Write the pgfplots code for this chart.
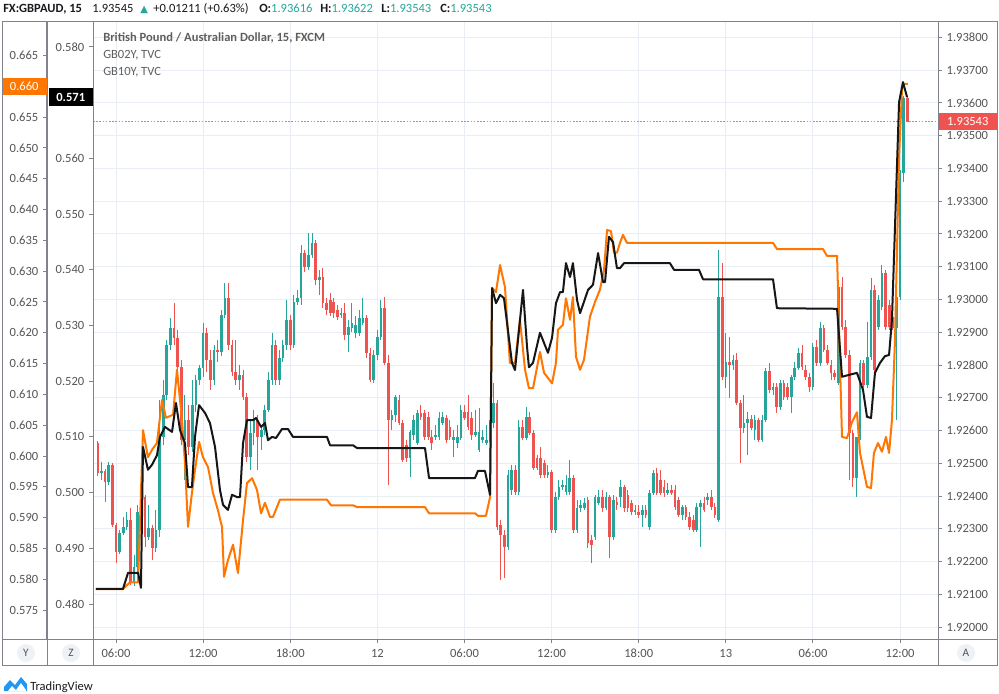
\documentclass[border=0pt]{standalone}
\usepackage{fontspec}
\setmainfont{Carlito}
\newfontfamily\dejavu{DejaVu Sans}
\usepackage{pgfplots}
\pgfplotsset{compat=1.18}
\usepackage{pgfplotstable}

\definecolor{upc}{RGB}{38,166,154}
\definecolor{dnc}{RGB}{239,83,80}
\definecolor{orc}{RGB}{255,118,0}
\definecolor{blk}{RGB}{22,22,22}
\definecolor{gridc}{RGB}{232,238,244}
\definecolor{framec}{RGB}{128,131,140}
\definecolor{tickc}{RGB}{85,85,85}
\definecolor{txtc}{RGB}{25,25,30}
\definecolor{legc}{RGB}{95,95,95}
\definecolor{circc}{RGB}{238,241,246}
\definecolor{tvblue}{RGB}{33,150,243}

\pgfplotstableread{
t o h l c
4.75 1.92562 1.92568 1.92461 1.92470
5.00 1.92470 1.92504 1.92449 1.92476
5.25 1.92476 1.92482 1.92382 1.92443
5.50 1.92443 1.92504 1.92434 1.92495
5.75 1.92495 1.92501 1.92305 1.92311
6.00 1.92311 1.92318 1.92195 1.92229
6.25 1.92229 1.92296 1.92223 1.92287
6.50 1.92287 1.92336 1.92281 1.92305
6.75 1.92305 1.92351 1.92296 1.92327
7.00 1.92327 1.92363 1.92128 1.92134
7.25 1.92134 1.92220 1.92125 1.92183
7.50 1.92183 1.92373 1.92159 1.92351
7.75 1.92351 1.92427 1.92342 1.92397
8.00 1.92397 1.92403 1.92244 1.92275
8.25 1.92275 1.92373 1.92266 1.92302
8.50 1.92302 1.92311 1.92205 1.92241
8.75 1.92241 1.92357 1.92229 1.92296
9.00 1.92296 1.92693 1.92275 1.92580
9.25 1.92580 1.92754 1.92556 1.92708
9.50 1.92708 1.92876 1.92693 1.92861
9.75 1.92861 1.92944 1.92846 1.92913
10.00 1.92913 1.92989 1.92861 1.92882
10.25 1.92882 1.92907 1.92779 1.92794
10.50 1.92794 1.92815 1.92556 1.92571
10.75 1.92571 1.92708 1.92449 1.92632
11.00 1.92632 1.92678 1.92525 1.92550
11.25 1.92550 1.92754 1.92534 1.92678
11.50 1.92678 1.92769 1.92656 1.92754
11.75 1.92754 1.92800 1.92739 1.92791
12.00 1.92791 1.92928 1.92763 1.92898
12.25 1.92898 1.92913 1.92779 1.92815
12.50 1.92815 1.92846 1.92724 1.92754
12.75 1.92754 1.92861 1.92739 1.92846
13.00 1.92846 1.92876 1.92809 1.92840
13.25 1.92840 1.92968 1.92827 1.92953
13.50 1.92953 1.93050 1.92944 1.93005
13.75 1.93005 1.93050 1.92846 1.92861
14.00 1.92861 1.92876 1.92766 1.92779
14.25 1.92779 1.92876 1.92739 1.92754
14.50 1.92754 1.92800 1.92724 1.92769
14.75 1.92769 1.92785 1.92693 1.92702
15.00 1.92702 1.92715 1.92504 1.92519
15.25 1.92519 1.92632 1.92479 1.92592
15.50 1.92592 1.92663 1.92556 1.92632
15.75 1.92632 1.92647 1.92479 1.92580
16.00 1.92580 1.92617 1.92540 1.92602
16.25 1.92602 1.92678 1.92586 1.92663
16.50 1.92663 1.92779 1.92656 1.92754
16.75 1.92754 1.92898 1.92739 1.92861
17.00 1.92861 1.92876 1.92739 1.92754
17.25 1.92754 1.92846 1.92739 1.92821
17.50 1.92821 1.92876 1.92809 1.92861
17.75 1.92861 1.92998 1.92846 1.92937
18.00 1.92937 1.92953 1.92846 1.92861
18.25 1.92861 1.93014 1.92852 1.92992
18.50 1.92992 1.93029 1.92983 1.93005
18.75 1.93005 1.93166 1.92983 1.93142
19.00 1.93142 1.93151 1.93084 1.93099
19.25 1.93099 1.93203 1.93090 1.93136
19.50 1.93136 1.93203 1.93127 1.93173
19.75 1.93173 1.93182 1.93044 1.93060
20.00 1.93060 1.93090 1.93014 1.93069
20.25 1.93069 1.93096 1.92974 1.92989
20.50 1.92989 1.93005 1.92953 1.92968
20.75 1.92998 1.93020 1.92950 1.92959
21.00 1.92992 1.93005 1.92944 1.92959
21.25 1.92968 1.92983 1.92937 1.92947
21.50 1.92953 1.92974 1.92944 1.92959
21.75 1.92959 1.92989 1.92876 1.92892
22.00 1.92892 1.92937 1.92840 1.92916
22.25 1.92913 1.92989 1.92901 1.92928
22.50 1.92898 1.92950 1.92882 1.92922
22.75 1.92898 1.92968 1.92889 1.92944
23.00 1.92928 1.93005 1.92922 1.92944
23.25 1.92944 1.92953 1.92821 1.92837
23.50 1.92837 1.92852 1.92748 1.92754
23.75 1.92754 1.92846 1.92745 1.92831
24.00 1.92831 1.92907 1.92815 1.92886
24.25 1.92886 1.92998 1.92876 1.92974
24.50 1.92974 1.93008 1.92800 1.92806
24.75 1.92806 1.92831 1.92434 1.92632
25.00 1.92632 1.92663 1.92602 1.92647
25.25 1.92647 1.92708 1.92626 1.92702
25.50 1.92693 1.92708 1.92617 1.92623
25.75 1.92623 1.92632 1.92504 1.92510
26.00 1.92556 1.92571 1.92504 1.92516
26.25 1.92516 1.92602 1.92458 1.92595
26.50 1.92586 1.92647 1.92571 1.92632
26.75 1.92562 1.92663 1.92556 1.92653
27.00 1.92653 1.92678 1.92632 1.92641
27.25 1.92653 1.92663 1.92571 1.92580
27.50 1.92641 1.92656 1.92571 1.92580
27.75 1.92580 1.92602 1.92540 1.92562
28.00 1.92580 1.92617 1.92571 1.92586
28.25 1.92580 1.92656 1.92571 1.92638
28.50 1.92623 1.92656 1.92617 1.92641
28.75 1.92638 1.92647 1.92562 1.92571
29.00 1.92611 1.92632 1.92571 1.92580
29.25 1.92571 1.92602 1.92519 1.92580
29.50 1.92562 1.92617 1.92547 1.92580
29.75 1.92577 1.92678 1.92571 1.92663
30.00 1.92656 1.92678 1.92632 1.92638
30.25 1.92656 1.92708 1.92602 1.92611
30.50 1.92638 1.92656 1.92571 1.92586
30.75 1.92586 1.92663 1.92580 1.92595
31.00 1.92540 1.92669 1.92534 1.92595
31.25 1.92571 1.92602 1.92562 1.92580
31.50 1.92562 1.92617 1.92556 1.92571
31.75 1.92571 1.92632 1.92565 1.92623
32.00 1.92623 1.92745 1.92608 1.92684
32.25 1.92684 1.92693 1.92296 1.92305
32.50 1.92311 1.92327 1.92144 1.92281
32.75 1.92281 1.92296 1.92150 1.92244
33.00 1.92244 1.92479 1.92235 1.92464
33.25 1.92418 1.92495 1.92403 1.92479
33.50 1.92479 1.92495 1.92403 1.92412
33.75 1.92412 1.92632 1.92403 1.92611
34.00 1.92611 1.92632 1.92571 1.92577
34.25 1.92577 1.92672 1.92571 1.92641
34.50 1.92641 1.92656 1.92586 1.92592
34.75 1.92592 1.92602 1.92479 1.92485
35.00 1.92516 1.92525 1.92479 1.92485
35.25 1.92516 1.92550 1.92455 1.92464
35.50 1.92501 1.92510 1.92455 1.92464
35.75 1.92464 1.92495 1.92455 1.92473
36.00 1.92473 1.92479 1.92287 1.92296
36.25 1.92296 1.92412 1.92287 1.92397
36.50 1.92397 1.92449 1.92388 1.92427
36.75 1.92427 1.92449 1.92418 1.92434
37.00 1.92412 1.92464 1.92403 1.92434
37.25 1.92412 1.92510 1.92403 1.92455
37.50 1.92455 1.92464 1.92287 1.92296
37.75 1.92296 1.92388 1.92287 1.92363
38.00 1.92363 1.92388 1.92351 1.92373
38.25 1.92363 1.92394 1.92357 1.92379
38.50 1.92388 1.92397 1.92241 1.92256
38.75 1.92266 1.92281 1.92195 1.92250
39.00 1.92275 1.92403 1.92266 1.92397
39.25 1.92379 1.92418 1.92373 1.92397
39.50 1.92397 1.92418 1.92351 1.92363
39.75 1.92363 1.92412 1.92357 1.92397
40.00 1.92397 1.92403 1.92211 1.92275
40.25 1.92275 1.92403 1.92266 1.92388
40.50 1.92382 1.92397 1.92357 1.92373
40.75 1.92397 1.92449 1.92366 1.92427
41.00 1.92427 1.92434 1.92351 1.92363
41.25 1.92403 1.92418 1.92351 1.92363
41.50 1.92379 1.92388 1.92342 1.92351
41.75 1.92351 1.92373 1.92342 1.92357
42.00 1.92351 1.92373 1.92333 1.92342
42.25 1.92342 1.92373 1.92305 1.92357
42.50 1.92357 1.92373 1.92333 1.92342
42.75 1.92305 1.92418 1.92296 1.92409
43.00 1.92409 1.92479 1.92403 1.92470
43.25 1.92470 1.92485 1.92403 1.92409
43.50 1.92449 1.92479 1.92403 1.92409
43.75 1.92427 1.92449 1.92397 1.92409
44.00 1.92409 1.92440 1.92403 1.92418
44.25 1.92418 1.92434 1.92403 1.92409
44.50 1.92418 1.92434 1.92357 1.92366
44.75 1.92388 1.92397 1.92336 1.92342
45.00 1.92342 1.92373 1.92327 1.92366
45.25 1.92366 1.92373 1.92327 1.92336
45.50 1.92336 1.92351 1.92296 1.92305
45.75 1.92327 1.92342 1.92290 1.92296
46.00 1.92296 1.92379 1.92290 1.92366
46.25 1.92366 1.92388 1.92244 1.92379
46.50 1.92379 1.92397 1.92351 1.92357
46.75 1.92388 1.92409 1.92373 1.92397
47.00 1.92397 1.92418 1.92357 1.92366
47.25 1.92366 1.92379 1.92333 1.92342
47.50 1.92327 1.93151 1.92321 1.93008
47.75 1.93008 1.93111 1.92754 1.92763
48.00 1.92763 1.92898 1.92730 1.92809
48.25 1.92809 1.92886 1.92699 1.92800
48.50 1.92800 1.92831 1.92785 1.92815
48.75 1.92815 1.92837 1.92678 1.92684
49.00 1.92684 1.92693 1.92501 1.92608
49.25 1.92608 1.92708 1.92592 1.92623
49.50 1.92623 1.92656 1.92525 1.92635
49.75 1.92635 1.92647 1.92602 1.92608
50.00 1.92602 1.92647 1.92571 1.92632
50.25 1.92632 1.92638 1.92565 1.92571
50.50 1.92571 1.92647 1.92565 1.92632
50.75 1.92632 1.92791 1.92626 1.92782
51.00 1.92782 1.92806 1.92715 1.92724
51.25 1.92724 1.92745 1.92708 1.92733
51.50 1.92733 1.92745 1.92653 1.92672
51.75 1.92672 1.92754 1.92663 1.92745
52.00 1.92745 1.92754 1.92693 1.92702
52.25 1.92733 1.92745 1.92693 1.92702
52.50 1.92702 1.92769 1.92653 1.92763
52.75 1.92763 1.92809 1.92754 1.92791
53.00 1.92791 1.92852 1.92785 1.92837
53.25 1.92837 1.92861 1.92785 1.92794
53.50 1.92785 1.92800 1.92754 1.92763
53.75 1.92763 1.92776 1.92718 1.92733
54.00 1.92733 1.92867 1.92724 1.92855
54.25 1.92855 1.92876 1.92797 1.92806
54.50 1.92806 1.92931 1.92797 1.92913
54.75 1.92913 1.92922 1.92840 1.92846
55.00 1.92846 1.92861 1.92800 1.92806
55.25 1.92800 1.92815 1.92754 1.92776
55.50 1.92776 1.92785 1.92754 1.92763
55.75 1.92745 1.93060 1.92739 1.93038
56.00 1.93038 1.93069 1.92907 1.92916
56.25 1.92916 1.92937 1.92821 1.92831
56.50 1.92831 1.92846 1.92449 1.92592
56.75 1.92592 1.92602 1.92427 1.92455
57.00 1.92455 1.92580 1.92397 1.92580
57.25 1.92580 1.92815 1.92571 1.92806
57.50 1.92806 1.92815 1.92724 1.92739
57.75 1.92739 1.92931 1.92730 1.92824
58.00 1.92824 1.93066 1.92815 1.93029
58.25 1.93029 1.93044 1.92779 1.92785
58.50 1.92916 1.93014 1.92907 1.92998
58.75 1.92977 1.93105 1.92968 1.93081
59.00 1.93081 1.93090 1.92907 1.92916
59.25 1.92983 1.92998 1.92907 1.92916
59.50 1.92947 1.92962 1.92907 1.92913
59.75 1.92913 1.93029 1.92632 1.93008
60.00 1.93008 1.93395 1.92998 1.93386
60.25 1.93386 1.93620 1.93359 1.93615
60.50 1.93616 1.93622 1.93543 1.93543
}\candles

\pgfplotsset{
  tvaxis/.style={
    anchor=south west, scale only axis, height=462.75pt,
    axis line style={-, draw=framec, line width=0.75pt},
    tick align=outside, major tick length=3pt,
    tick style={draw=framec, line width=0.75pt},
    tick label style={font=\fontsize{9.4}{10}\selectfont, text=tickc},
    scaled y ticks=false, scaled x ticks=false,
    clip mode=individual,
  },
}

\begin{document}
\begin{tikzpicture}[font=\fontsize{9.4}{11}\selectfont]
\fill[white] (0,0) rectangle (749.25pt,519.75pt);
\path[use as bounding box] (0,0) rectangle (749.25pt,519.75pt);

% ---------- main price axis (right) ----------
\begin{axis}[tvaxis,
  at={(69.75pt,40.5pt)}, width=633.75pt,
  xmin=4.416, xmax=62.612, ymin=1.919634, ymax=1.938473,
  axis x line*=bottom, axis y line*=right,
  xtick={6,12,18,24,30,36,42,48,54,60},
  xticklabels={06:00,12:00,18:00,12,06:00,12:00,18:00,13,06:00,12:00},
  ytick={1.920,1.921,1.922,1.923,1.924,1.925,1.926,1.927,1.928,1.929,1.930,1.931,1.932,1.933,1.934,1.935,1.936,1.937,1.938},
  yticklabel style={/pgf/number format/.cd, fixed, fixed zerofill, precision=5, assume math mode=true},
  xticklabel style={yshift=-1pt},
  grid=major, grid style={draw=gridc, line width=0.75pt},
]
\addplot[dnc!80, dash pattern=on 1.2pt off 1.2pt, line width=0.8pt, forget plot] coordinates {(4.416,1.93543) (62.612,1.93543)};
% wicks
\addplot[draw=none, mark=none, forget plot,
  restrict expr to domain={\thisrow{c}-\thisrow{o}}{0:1},
  error bars/.cd, y dir=minus, y explicit, error mark=none,
  error bar style={line width=0.75pt, draw=upc}]
  table[x=t, y=h, y error minus expr=\thisrow{h}-\thisrow{l}] {\candles};
\addplot[draw=none, mark=none, forget plot,
  restrict expr to domain={\thisrow{o}-\thisrow{c}}{0.0000001:1},
  error bars/.cd, y dir=minus, y explicit, error mark=none,
  error bar style={line width=0.75pt, draw=dnc}]
  table[x=t, y=h, y error minus expr=\thisrow{h}-\thisrow{l}] {\candles};
% bodies
\addplot[draw=none, mark=none, forget plot,
  restrict expr to domain={\thisrow{c}-\thisrow{o}}{0:1},
  error bars/.cd, y dir=minus, y explicit, error mark=none,
  error bar style={line width=2pt, draw=upc}]
  table[x=t, y=c, y error minus expr=\thisrow{c}-\thisrow{o}] {\candles};
\addplot[draw=none, mark=none, forget plot,
  restrict expr to domain={\thisrow{o}-\thisrow{c}}{0.0000001:1},
  error bars/.cd, y dir=minus, y explicit, error mark=none,
  error bar style={line width=2pt, draw=dnc}]
  table[x=t, y=o, y error minus expr=\thisrow{o}-\thisrow{c}] {\candles};
\node[fill=dnc, text=white, anchor=west, minimum width=44.25pt, minimum height=12.75pt, inner sep=0pt, font=\fontsize{9.4}{10}\selectfont] at (axis cs:62.612,1.93543) {1.93543};
\end{axis}

% ---------- GB10Y (orange, outer left axis) ----------
\begin{axis}[tvaxis,
  at={(35.25pt,40.5pt)}, width=668.25pt,
  xmin=1.248, xmax=62.612, ymin=0.570292, ymax=0.670455,
  axis x line=none, axis y line*=left,
  ytick={0.575,0.580,0.585,0.590,0.595,0.600,0.605,0.610,0.615,0.620,0.625,0.630,0.635,0.640,0.645,0.650,0.655,0.665},
  yticklabel style={/pgf/number format/.cd, fixed, fixed zerofill, precision=3, assume math mode=true},
]
\addplot[orc, line width=1.5pt, line join=round, mark=none] coordinates {
(4.62,0.5784)(6.48,0.5784)(6.96,0.5795)(7.52,0.5795)(7.86,0.6042)(8.20,0.5998)(8.48,0.6010)(8.82,0.6021)(9.17,0.6091)(9.44,0.6062)(9.93,0.6067)(10.20,0.6140)(10.55,0.6058)(10.75,0.5989)(10.96,0.5885)(11.23,0.5940)(11.44,0.5977)(11.72,0.6023)(11.99,0.5998)(12.34,0.5982)(12.68,0.5940)(13.02,0.5912)(13.30,0.5885)(13.44,0.5804)(13.71,0.5831)(14.06,0.5856)(14.40,0.5810)(14.75,0.5896)(15.02,0.5956)(15.37,0.5964)(15.71,0.5945)(15.99,0.5907)(16.26,0.5924)(16.61,0.5901)(16.81,0.5901)(17.29,0.5929)(20.53,0.5929)(20.81,0.5920)(22.32,0.5920)(22.60,0.5917)(27.28,0.5917)(27.56,0.5907)(30.72,0.5907)(30.93,0.5903)(31.48,0.5903)(31.76,0.5933)(31.90,0.6273)(32.17,0.6266)(32.45,0.6310)(32.79,0.6274)(33.13,0.6151)(33.48,0.6151)(33.82,0.6221)(34.17,0.6140)(34.44,0.6110)(34.72,0.6110)(35.20,0.6169)(35.48,0.6135)(36.03,0.6118)(36.30,0.6151)(36.44,0.6205)(36.78,0.6213)(36.99,0.6256)(37.27,0.6221)(37.47,0.6258)(37.68,0.6161)(37.96,0.6140)(38.23,0.6156)(38.64,0.6226)(38.99,0.6250)(39.33,0.6270)(39.61,0.6302)(39.82,0.6367)(40.09,0.6365)(40.30,0.6330)(40.50,0.6330)(40.71,0.6346)(40.92,0.6359)(41.19,0.6346)(51.25,0.6346)(51.52,0.6336)(54.69,0.6336)(54.96,0.6325)(55.66,0.6325)(56.00,0.6031)(56.34,0.6029)(56.69,0.6055)(57.03,0.6071)(57.24,0.6005)(57.72,0.5950)(58.00,0.5948)(58.20,0.6005)(58.48,0.6021)(58.75,0.6007)(59.03,0.6031)(59.24,0.6005)(59.44,0.6058)(59.65,0.6188)(59.93,0.6485)(60.13,0.6594)(60.27,0.6604)(60.54,0.6604)
};
\node[fill=orc, text=white, anchor=east, minimum width=33.75pt, minimum height=12.75pt, inner sep=0pt, font=\fontsize{9.4}{10}\selectfont] at (axis cs:1.248,0.660) {0.660};
\end{axis}

% ---------- GB02Y (black, inner left axis) ----------
\begin{axis}[tvaxis,
  at={(69.75pt,40.5pt)}, width=633.75pt,
  xmin=4.416, xmax=62.612, ymin=0.473716, ymax=0.584488,
  axis x line=none, axis y line*=left,
  ytick={0.48,0.49,0.50,0.51,0.52,0.53,0.54,0.55,0.56,0.58},
  yticklabel style={/pgf/number format/.cd, fixed, fixed zerofill, precision=3, assume math mode=true},
]
\addplot[blk, line width=1.5pt, line join=round, mark=none] coordinates {
(4.62,0.4827)(6.48,0.4827)(6.83,0.4856)(7.52,0.4856)(7.72,0.4829)(7.86,0.5082)(8.20,0.5041)(8.48,0.5050)(8.82,0.5067)(9.03,0.5100)(9.37,0.5118)(9.86,0.5109)(10.13,0.5161)(10.41,0.5112)(10.75,0.5089)(10.96,0.5010)(11.23,0.5010)(11.44,0.5100)(11.72,0.5157)(12.13,0.5143)(12.47,0.5125)(12.82,0.5082)(13.16,0.5005)(13.37,0.4978)(13.71,0.4969)(13.99,0.4996)(14.33,0.4992)(14.54,0.4992)(14.75,0.5089)(15.02,0.5130)(15.44,0.5130)(15.64,0.5134)(15.99,0.5118)(16.26,0.5125)(16.47,0.5094)(16.74,0.5100)(17.02,0.5098)(17.43,0.5114)(17.85,0.5114)(18.19,0.5100)(20.53,0.5100)(20.74,0.5085)(22.32,0.5085)(22.60,0.5080)(27.28,0.5080)(27.56,0.5026)(30.72,0.5026)(30.93,0.5039)(31.41,0.5039)(31.76,0.4996)(31.90,0.5367)(32.17,0.5340)(32.45,0.5355)(32.72,0.5349)(33.27,0.5233)(33.48,0.5220)(34.03,0.5364)(34.31,0.5261)(34.44,0.5225)(34.72,0.5233)(35.20,0.5287)(35.75,0.5251)(36.03,0.5278)(36.30,0.5340)(36.58,0.5360)(36.78,0.5360)(36.99,0.5412)(37.27,0.5387)(37.47,0.5412)(37.75,0.5346)(37.96,0.5322)(38.51,0.5364)(38.85,0.5373)(39.20,0.5430)(39.54,0.5378)(39.68,0.5378)(39.95,0.5459)(40.23,0.5450)(40.50,0.5403)(40.71,0.5403)(40.99,0.5412)(44.15,0.5412)(44.43,0.5400)(46.15,0.5400)(46.43,0.5383)(51.25,0.5383)(51.52,0.5331)(55.66,0.5330)(56.00,0.5208)(57.03,0.5215)(57.45,0.5184)(57.72,0.5136)(58.00,0.5134)(58.27,0.5215)(58.62,0.5233)(58.96,0.5245)(59.24,0.5247)(59.44,0.5310)(59.93,0.5701)(60.20,0.5737)(60.48,0.5710)
};
\node[fill=black, text=white, anchor=east, minimum width=33pt, minimum height=13.5pt, inner sep=0pt, font=\bfseries\fontsize{9.4}{10}\selectfont] at (axis cs:4.416,0.571) {0.571};
\end{axis}

% ---------- frame ----------
\draw[framec, line width=0.75pt] (1.5pt,21pt) rectangle (747.75pt,503.25pt);
\draw[framec, line width=0.75pt] (35.25pt,21pt) -- (35.25pt,503.25pt);
\draw[framec, line width=0.75pt] (69.75pt,21pt) -- (69.75pt,503.25pt);
\draw[framec, line width=0.75pt] (703.5pt,21pt) -- (703.5pt,503.25pt);
\draw[framec, line width=0.75pt] (1.5pt,40.5pt) -- (747.75pt,40.5pt);

% ---------- header ----------
\node[anchor=base west, inner sep=0pt, text=txtc] at (2.25pt,510pt) {\textbf{FX:GBPAUD, 15}};
\node[anchor=base west, inner sep=0pt, text=txtc] at (69pt,510pt) {1.93545};
\node[anchor=base west, inner sep=0pt, text=upc] at (105pt,510pt) {\dejavu\fontsize{7.5}{8}\selectfont ▲};
\node[anchor=base west, inner sep=0pt, text=txtc] at (114.75pt,510pt) {+0.01211 (+0.63\%)};
\node[anchor=base west, inner sep=0pt, text=txtc] at (194.25pt,510pt) {\textbf{O:}\textcolor{upc}{1.93616}};
\node[anchor=base west, inner sep=0pt, text=txtc] at (240pt,510pt) {\textbf{H:}\textcolor{upc}{1.93622}};
\node[anchor=base west, inner sep=0pt, text=txtc] at (285.75pt,510pt) {\textbf{L:}\textcolor{upc}{1.93543}};
\node[anchor=base west, inner sep=0pt, text=txtc] at (330pt,510pt) {\textbf{C:}\textcolor{upc}{1.93543}};

% ---------- legend texts ----------
\node[anchor=base west, inner sep=0pt, text=legc] at (77.25pt,488.25pt) {\textbf{British Pound / Australian Dollar, 15, FXCM}};
\node[anchor=base west, inner sep=0pt, text=legc] at (77.25pt,475.5pt) {GB02Y, TVC};
\node[anchor=base west, inner sep=0pt, text=legc] at (77.25pt,462.75pt) {GB10Y, TVC};

% ---------- bottom buttons ----------
\fill[circc] (19.5pt,30pt) circle (6.75pt);
\node[text=tickc, font=\fontsize{8.5}{9}\selectfont] at (19.5pt,30pt) {Y};
\fill[circc] (53.25pt,30pt) circle (6.75pt);
\node[text=tickc, font=\fontsize{8.5}{9}\selectfont] at (53.25pt,30pt) {Z};
\fill[circc] (724.5pt,30pt) circle (6.75pt);
\node[text=tickc, font=\fontsize{8.5}{9}\selectfont] at (724.5pt,30pt) {A};

% ---------- logo ----------
\fill[tvblue] (3pt,1.5pt) -- (3pt,4.5pt) -- (7.5pt,9.75pt) -- (11.25pt,6pt) -- (15.75pt,12pt) -- (20.25pt,6.75pt) -- (20.25pt,1.5pt) -- cycle;
\fill[white] (6pt,1.5pt) -- (9pt,5.25pt) -- (12pt,2.25pt) -- (15.75pt,7.5pt) -- (19.5pt,2.25pt) -- (19.5pt,1.5pt) -- cycle;
\node[anchor=base west, inner sep=0pt, text=txtc] at (22.5pt,2.25pt) {TradingView};
\end{tikzpicture}
\end{document}
